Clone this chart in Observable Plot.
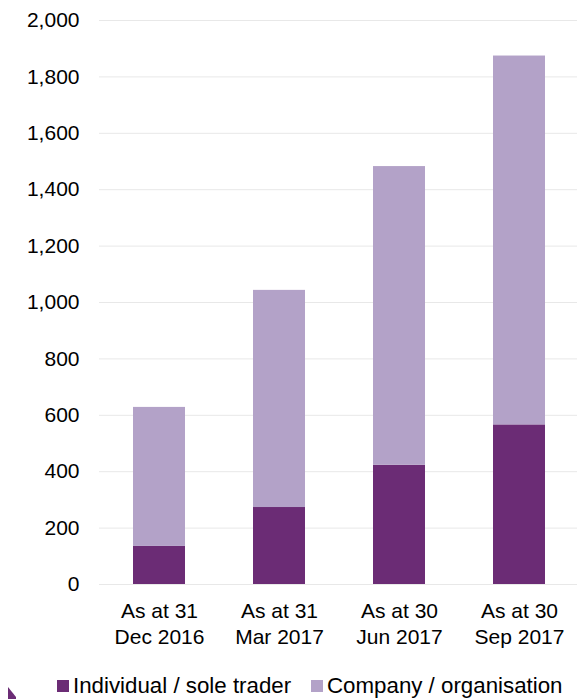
<!DOCTYPE html>
<html>
<head>
<meta charset="utf-8">
<script src="https://cdn.jsdelivr.net/npm/d3@7"></script>
<script src="https://cdn.jsdelivr.net/npm/@observablehq/plot@0.6"></script>
<style>
  body { margin: 0; background: #fff; font-family: "Liberation Sans", Arial, sans-serif; }
  #wrap { position: relative; width: 577px; height: 699px; overflow: hidden; }
  #legend { position: absolute; left: 0; top: 674px; width: 577px; height: 24px; font-size: 22.3px; color: #000; }
  .item { position: absolute; top: 0; line-height: 24px; white-space: nowrap; }
  .sw { display: inline-block; width: 12px; height: 12px; margin-right: 4px; vertical-align: 1px; }
  #deco { position: absolute; left: 0; top: 680px; }
</style>
</head>
<body>
<div id="wrap">
  <div id="chart"></div>
  <div id="legend"></div>
  <svg id="deco" width="20" height="19"><polygon points="8,7 16,17 16,19 8,19" fill="#6b2c75"/></svg>
</div>
<script>
const periods = ["As at 31\nDec 2016", "As at 31\nMar 2017", "As at 30\nJun 2017", "As at 30\nSep 2017"];
const seriesNames = ["Individual / sole trader", "Company / organisation"];
const individual = [135, 273, 423, 566];
const company = [493, 770, 1059, 1308];
const colors = ["#6b2c75", "#b3a2c8"];
const yTicks = [0, 200, 400, 600, 800, 1000, 1200, 1400, 1600, 1800, 2000];

const data = [];
periods.forEach((p, i) => {
  data.push({period: p, series: seriesNames[0], value: individual[i]});
  data.push({period: p, series: seriesNames[1], value: company[i]});
});

const chart = Plot.plot({
  width: 577,
  height: 660,
  marginLeft: 99,
  marginRight: -2,
  marginTop: 20,
  marginBottom: 76,
  style: {fontFamily: "'Liberation Sans', Arial, sans-serif", fontSize: "21px", color: "#000", background: "#fff"},
  x: {domain: periods, paddingInner: 0.567, paddingOuter: 0.2835, label: null},
  y: {domain: [0, 2000], ticks: yTicks, label: null},
  color: {domain: seriesNames, range: colors},
  marks: [
    Plot.gridY(yTicks, {stroke: "#e8e8e8", strokeOpacity: 1, strokeWidth: 1}),
    Plot.barY(data, {x: "period", y: "value", fill: "series", order: seriesNames}),
    Plot.axisY(yTicks, {tickSize: 0, tickPadding: 20, tickFormat: d3.format(","), fontSize: 21, label: null}),
    Plot.axisX({tickSize: 0, tickPadding: 14, fontSize: 21, lineHeight: 1.28, label: null})
  ]
});
document.getElementById("chart").appendChild(chart);

const legend = document.getElementById("legend");
const lx = [57, 311];
seriesNames.forEach((s, i) => {
  const d = document.createElement("div");
  d.className = "item";
  d.style.left = lx[i] + "px";
  d.innerHTML = `<span class="sw" style="background:${colors[i]}"></span>${s}`;
  legend.appendChild(d);
});
</script>
</body>
</html>
